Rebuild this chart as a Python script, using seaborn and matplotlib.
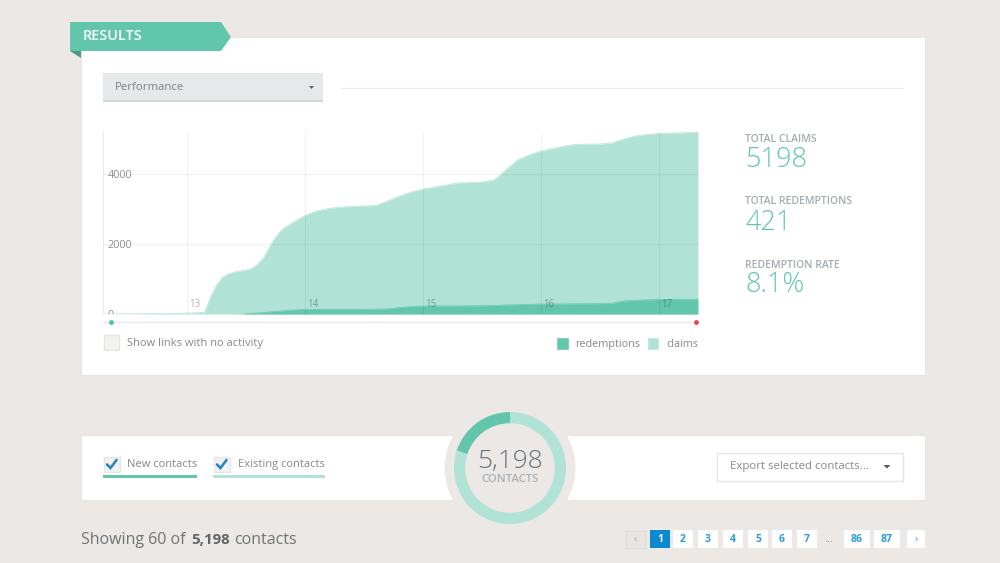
import matplotlib
matplotlib.use("Agg")
import matplotlib.pyplot as plt
from matplotlib.patches import Rectangle, Polygon, Circle, Patch
from matplotlib.transforms import ScaledTranslation, Bbox
import pandas as pd
import seaborn as sns

# values
days = [12.3, 12.5, 12.7, 12.9, 13.0, 13.1, 13.15, 13.2, 13.25, 13.3, 13.35, 13.4, 13.5,
        13.55, 13.6, 13.65, 13.7, 13.75, 13.8, 13.9, 14.0, 14.1, 14.2, 14.3, 14.4, 14.5,
        14.6, 14.7, 14.8, 14.9, 15.0, 15.1, 15.2, 15.3, 15.4, 15.5, 15.6, 15.65, 15.7,
        15.8, 15.9, 16.0, 16.1, 16.2, 16.3, 16.4, 16.5, 16.6, 16.7, 16.8, 16.9, 17.0,
        17.1, 17.2, 17.33]
claims = [0, 5, 10, 20, 25, 40, 55, 485, 830, 1055, 1145, 1200, 1255,
          1300, 1430, 1615, 1915, 2200, 2400, 2630, 2815, 2945, 3015, 3055, 3070, 3085,
          3100, 3230, 3370, 3485, 3570, 3630, 3685, 3745, 3755, 3770, 3830, 3955, 4115,
          4400, 4545, 4655, 4730, 4800, 4845, 4855, 4855, 4885, 5000, 5085, 5130, 5155,
          5170, 5175, 5198]
redemptions = [0, 0, 0, 0, 0, 0, 0, 0, 0, 0, 0, 0, 10,
               20, 30, 45, 60, 72, 85, 115, 130, 132, 133, 134, 134, 135,
               140, 145, 185, 210, 230, 231, 232, 233, 234, 235, 245, 250, 255,
               265, 275, 285, 287, 289, 291, 293, 295, 305, 370, 390, 405, 415,
               418, 420, 421]
y_ticks = [0, 2000, 4000]
x_ticks = [13, 14, 15, 16, 17]
contact_split = [1040, 4158]  # new, existing
stats = [("TOTAL CLAIMS", "5198"), ("TOTAL REDEMPTIONS", "421"), ("REDEMPTION RATE", "8.1%")]
pages = ["1", "2", "3", "4", "5", "6", "7", "86", "87"]

W, H = 1000, 563
BG = "#ECE8E5"
DARK = "#61C6AC"
LIGHT = "#B0E2D5"
GREY = "#85898C"
FONT = "Open Sans"

sns.set_theme(style="white", font=FONT)
fig = plt.figure(figsize=(W / 100, H / 100), dpi=100, facecolor=BG)


def px_axes(x0, y0, x1, y1, **kw):
    return fig.add_axes([x0 / W, 1 - y1 / H, (x1 - x0) / W, (y1 - y0) / H], **kw)


# page furniture, drawn in pixel coordinates
ui = fig.add_axes([0, 0, 1, 1], zorder=0)
ui.set_xlim(0, W)
ui.set_ylim(H, 0)
ui.axis("off")


def box(x0, y0, x1, y1, fc, ec="none", lw=0.8, z=1):
    ui.add_patch(Rectangle((x0, y0), x1 - x0, y1 - y0, fc=fc, ec=ec, lw=lw, zorder=z))


def label(x, y, s, size=8.1, color=GREY, ha="left", weight="normal", z=5):
    # va center sits a bit high for this font, hence the 1px
    ui.text(x, y + 1, s, fontsize=size, color=color, ha=ha, va="center", fontweight=weight, zorder=z)


box(81, 37, 925, 375, "white", "#E8E5E2")
box(81, 435, 925, 500, "white", "#E8E5E2")

# ribbon
ui.add_patch(Polygon([(70, 22), (221, 22), (231, 37), (221, 51), (70, 51)], fc=DARK, ec="none", zorder=3))
ui.add_patch(Polygon([(70, 51), (81, 51), (81, 58)], fc="#4B9C87", ec="none", zorder=3))
label(83, 35.5, "RESULTS", size=10.4, color="white", weight="semibold")

# dropdown
box(103, 73, 323, 100, "#E5E9E9")
box(103, 100, 323, 102, "#CFD6D6")
label(115, 87, "Performance", size=8.2, color="#7C8184")
ui.add_patch(Polygon([(309, 86), (314, 86), (311.5, 89)], fc="#5C6165", ec="none", zorder=3))
ui.plot([341, 903], [88, 88], color="#EDEDED", lw=1, zorder=2)

# area chart
ax = px_axes(103, 131, 698, 314, zorder=2)
ax.patch.set_alpha(0)
df = pd.DataFrame({"day": days, "claims": claims, "redemptions": redemptions})
ax.fill_between(df["day"], df["claims"], color=LIGHT, lw=0, zorder=1)
ax.fill_between(df["day"], df["redemptions"], color=DARK, lw=0, zorder=1.2)
sns.lineplot(data=df, x="day", y="claims", color=LIGHT, lw=0.5, ax=ax, zorder=1.1)
sns.lineplot(data=df[df["redemptions"] > 0], x="day", y="redemptions", color=DARK, lw=0.5, ax=ax, zorder=1.3)
ax.set_xlim(12.288, 17.331)
ax.set_ylim(0, 5228)
ax.set_xlabel("")
ax.set_ylabel("")
ax.set_xticks(x_ticks)
ax.set_yticks(y_ticks)
ax.grid(True, color="black", alpha=0.05, lw=0.8, zorder=1.5)
ax.set_axisbelow(False)
ax.get_ygridlines()[0].set_visible(False)
sns.despine(ax=ax, top=True, right=True, bottom=True)
ax.spines["left"].set_color("#EBEBEB")
ax.spines["left"].set_linewidth(0.8)
ax.tick_params(axis="x", length=0, pad=-11, labelsize=7, labelcolor="black")
ax.tick_params(axis="y", length=3, width=0.8, color="#A8A8A8", direction="in", pad=-3.5, labelsize=7.8, labelcolor="#8E9090")
shift = ScaledTranslation(2 / 100, 0, fig.dpi_scale_trans)
for t in ax.get_xticklabels():
    t.set_ha("left")
    t.set_alpha(0.3)
    t.set_transform(t.get_transform() + shift)
for t in ax.get_yticklabels():
    t.set_ha("left")
# the 0 label is cut off by the chart bottom
ax.get_yticklabels()[0].set_clip_box(Bbox([[0, H - 314], [W, H]]))
ax.get_yticklabels()[0].set_clip_on(True)

ax.legend(handles=[Patch(fc=DARK, label="redemptions"), Patch(fc=LIGHT, label="claims")],
          ncols=2, frameon=False, fontsize=7.8, labelcolor=GREY, loc="upper right",
          bbox_to_anchor=(1.0, -0.125), borderaxespad=0, borderpad=0,
          handlelength=1.15, handleheight=1.5, handletextpad=0.65, columnspacing=0.55)

# slider under the chart
ui.plot([103, 698], [322, 322], color="#E8E8E8", lw=1, zorder=2)
ui.scatter([111], [322], s=12, color="#4CC3A0", zorder=3, lw=0)
ui.scatter([696], [322], s=12, color="#E8414F", zorder=3, lw=0)

box(104, 335, 119, 349.5, "#F3F2F0", "#E8E6E4", 1)
label(127, 342.5, "Show links with no activity", size=8)

# stat column
for (name, value), y in zip(stats, [138.5, 201, 264]):
    label(745, y, name, size=7.5, color="#A4ABB1", weight="semibold")
    label(745, y + 20.5, value, size=19.5, color=DARK, weight="light")

# contact donut, cut into the lower card
ui.add_patch(Circle((510, 468), 65.5, fc=BG, ec="none", zorder=2))
dn = px_axes(454, 412, 566, 524, zorder=3)
dn.pie(contact_split, colors=[DARK, LIGHT], startangle=90, counterclock=True,
       radius=1, wedgeprops={"width": 0.2, "lw": 0})
dn.set_xlim(-1, 1)
dn.set_ylim(-1, 1)
dn.patch.set_alpha(0)
label(510, 460.5, "5,198", size=19, color="#66727C", ha="center", weight="light")
label(510, 479, "CONTACTS", size=8.2, color="#A9B2B8", ha="center", weight="semibold")

# contact filters
for x0, x1, tx, name, col in [(103, 197, 127, "New contacts", DARK), (213, 325, 237.5, "Existing contacts", LIGHT)]:
    box(x0 + 0.5, 456.5, x0 + 16.5, 472, "#F3F2F0", "#E8E6E4", 1)
    ui.plot([x0 + 4, x0 + 7.5, x0 + 13.5], [464.5, 468, 460], color="#2A86C8", lw=1.9, zorder=3, solid_joinstyle="miter")
    label(tx, 463.5, name, size=8)
    box(x0, 475, x1, 477.5, col)

# export button
box(716.5, 453, 903, 481, "white", "#E6E6E6", 1)
label(730, 465.5, "Export selected contacts...", size=8.2)
ui.add_patch(Polygon([(883.5, 465), (890.5, 465), (887, 468.5)], fc="#55595C", ec="none", zorder=3))

# footer line
label(81, 539, "Showing 60 of", size=11.5, color="#6F7476")
label(191, 539, "5,198", size=10.8, color="#5F6568", weight="bold")
label(234, 539, "contacts", size=11.5, color="#6F7476")

# pagination
box(625.5, 530.5, 645, 548, "#E9E6E3", "#E0DDDA", 0.8)
label(635, 538, "‹", size=8, color="#B0B0B0", ha="center")
slots = [(650, 670), (673, 693), (698, 718), (723, 743), (748, 768), (772, 792), (797, 817), (844, 870), (874, 900)]
for (x0, x1), p in zip(slots, pages):
    active = p == "1"
    box(x0, 530, x1, 548, "#0B8AD0" if active else "white")
    label((x0 + x1) / 2, 538.5, p, size=7.5, color="white" if active else "#2F9BDB", ha="center", weight="bold")
label(829, 538.5, "...", size=8, color="#9A9A9A", ha="center")
box(907, 530, 925, 548, "white")
label(916, 538, "›", size=8, color="#2F9BDB", ha="center")

fig.savefig("out.png", dpi=100, facecolor=BG)
